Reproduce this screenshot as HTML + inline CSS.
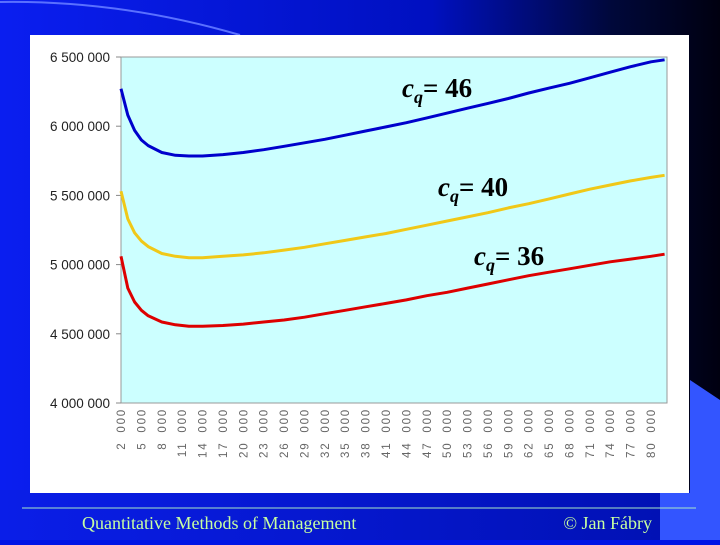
<!DOCTYPE html>
<html><head><meta charset="utf-8"><style>
body{margin:0;width:720px;height:540px;overflow:hidden;background:#0014e6;}
</style></head><body>
<svg width="720" height="540" xmlns="http://www.w3.org/2000/svg">
<defs>
<linearGradient id="bg" x1="0" y1="0" x2="1" y2="0">
<stop offset="0" stop-color="#0a1ef0"/><stop offset="0.6" stop-color="#0010c0"/><stop offset="0.85" stop-color="#00083a"/><stop offset="1" stop-color="#000010"/>
</linearGradient>
<linearGradient id="bg2" x1="0" y1="0" x2="1" y2="0">
<stop offset="0" stop-color="#0a1ee8"/><stop offset="1" stop-color="#0010b0"/>
</linearGradient>
</defs>
<rect width="720" height="540" fill="url(#bg)"/>
<rect y="490" width="720" height="50" fill="url(#bg2)"/>
<polygon points="690,380 720,400 720,540 660,540 660,493 690,493" fill="#3355ff"/>
<path d="M0,2 Q120,0 240,35" stroke="#5a70ff" stroke-width="2" fill="none"/>
<rect x="30" y="35" width="659" height="458" fill="#ffffff"/>
<rect x="121" y="57" width="546" height="346" fill="#ccffff" stroke="#999" stroke-width="1"/>
<g id="axes"></g>
<g id="series"></g>
<g font-family="Liberation Serif, serif" font-weight="bold" font-size="27" fill="#000">
<text x="402" y="97"><tspan font-style="italic">c</tspan><tspan font-style="italic" font-size="18" dy="6">q</tspan><tspan dy="-6">= 46</tspan></text>
<text x="438" y="196"><tspan font-style="italic">c</tspan><tspan font-style="italic" font-size="18" dy="6">q</tspan><tspan dy="-6">= 40</tspan></text>
<text x="474" y="265"><tspan font-style="italic">c</tspan><tspan font-style="italic" font-size="18" dy="6">q</tspan><tspan dy="-6">= 36</tspan></text>
</g>
<line x1="22" y1="508" x2="696" y2="508" stroke="#a8e8c8" stroke-width="1"/>
<text x="82" y="529" font-family="Liberation Serif, serif" font-size="18" fill="#c8ffa0">Quantitative Methods of Management</text>
<text x="652" y="529" text-anchor="end" font-family="Liberation Serif, serif" font-size="18" fill="#c8ffa0">© Jan Fábry</text>
</svg>
<script>
const qValues=[2,3,4,5,6,8,10,12,14,17,20,23,26,29,32,35,38,41,44,47,50,53,56,59,62,65,68,71,74,77,80,82];
const blueValues=[6.27,6.08,5.97,5.9,5.86,5.81,5.79,5.785,5.785,5.795,5.81,5.83,5.855,5.88,5.905,5.935,5.965,5.995,6.025,6.06,6.095,6.13,6.165,6.2,6.24,6.275,6.31,6.35,6.39,6.43,6.465,6.48];
const yellowValues=[5.53,5.33,5.23,5.17,5.13,5.08,5.06,5.05,5.05,5.06,5.07,5.085,5.105,5.125,5.15,5.175,5.2,5.225,5.255,5.285,5.315,5.345,5.375,5.41,5.44,5.475,5.51,5.545,5.575,5.605,5.63,5.645];
const redValues=[5.06,4.83,4.73,4.67,4.63,4.585,4.565,4.555,4.555,4.56,4.57,4.585,4.6,4.62,4.645,4.67,4.695,4.72,4.745,4.775,4.8,4.83,4.86,4.89,4.92,4.945,4.97,4.995,5.02,5.04,5.06,5.075];
const yTicks=[4.0,4.5,5.0,5.5,6.0,6.5];
const yTickLabels=["4 000 000","4 500 000","5 000 000","5 500 000","6 000 000","6 500 000"];
const xTicks=[2,5,8,11,14,17,20,23,26,29,32,35,38,41,44,47,50,53,56,59,62,65,68,71,74,77,80];
const NS="http://www.w3.org/2000/svg";
function xs(q){return 121+(q-2)*(530/78);}
function ys(v){return 403-(v-4.0)*(346/2.5);}
const axes=document.getElementById('axes');
yTicks.forEach((v,i)=>{
 const y=ys(v);
 const t=document.createElementNS(NS,'line');
 t.setAttribute('x1',116);t.setAttribute('x2',121);t.setAttribute('y1',y);t.setAttribute('y2',y);t.setAttribute('stroke','#888');
 
 
 axes.appendChild(t);
 const l=document.createElementNS(NS,'text');
 l.setAttribute('x',110);l.setAttribute('y',y+5);l.setAttribute('text-anchor','end');
 l.setAttribute('font-family','Liberation Sans, sans-serif');l.setAttribute('font-size','13.5');l.setAttribute('fill','#222');
 l.textContent=yTickLabels[i];
 
 
 axes.appendChild(l);
});
xTicks.forEach(q=>{
 const x=xs(q);
 const l=document.createElementNS(NS,'text');
 l.setAttribute('transform','translate('+(x+4)+',408) rotate(-90)');
 l.setAttribute('text-anchor','end');
 l.setAttribute('font-family','Liberation Sans, sans-serif');l.setAttribute('font-size','11.5');l.setAttribute('fill','#666');
 l.setAttribute('letter-spacing','1.8');
 l.setAttribute('word-spacing','4');
 l.textContent=q+' 000';
 
 
 axes.appendChild(l);
});
const series=document.getElementById('series');
[[blueValues,'#0000cc','series-cq-46'],[yellowValues,'#f0c818','series-cq-40'],[redValues,'#dd0000','series-cq-36']].forEach(s=>{
 const p=document.createElementNS(NS,'path');
 let d='';
 s[0].forEach((v,i)=>{d+=(i?'L':'M')+xs(qValues[i]).toFixed(1)+','+ys(v).toFixed(1);});
 p.setAttribute('d',d);p.setAttribute('fill','none');p.setAttribute('stroke',s[1]);p.setAttribute('stroke-width','3');p.setAttribute('stroke-linejoin','round');
 
 
 series.appendChild(p);
});
</script>
</body></html>
